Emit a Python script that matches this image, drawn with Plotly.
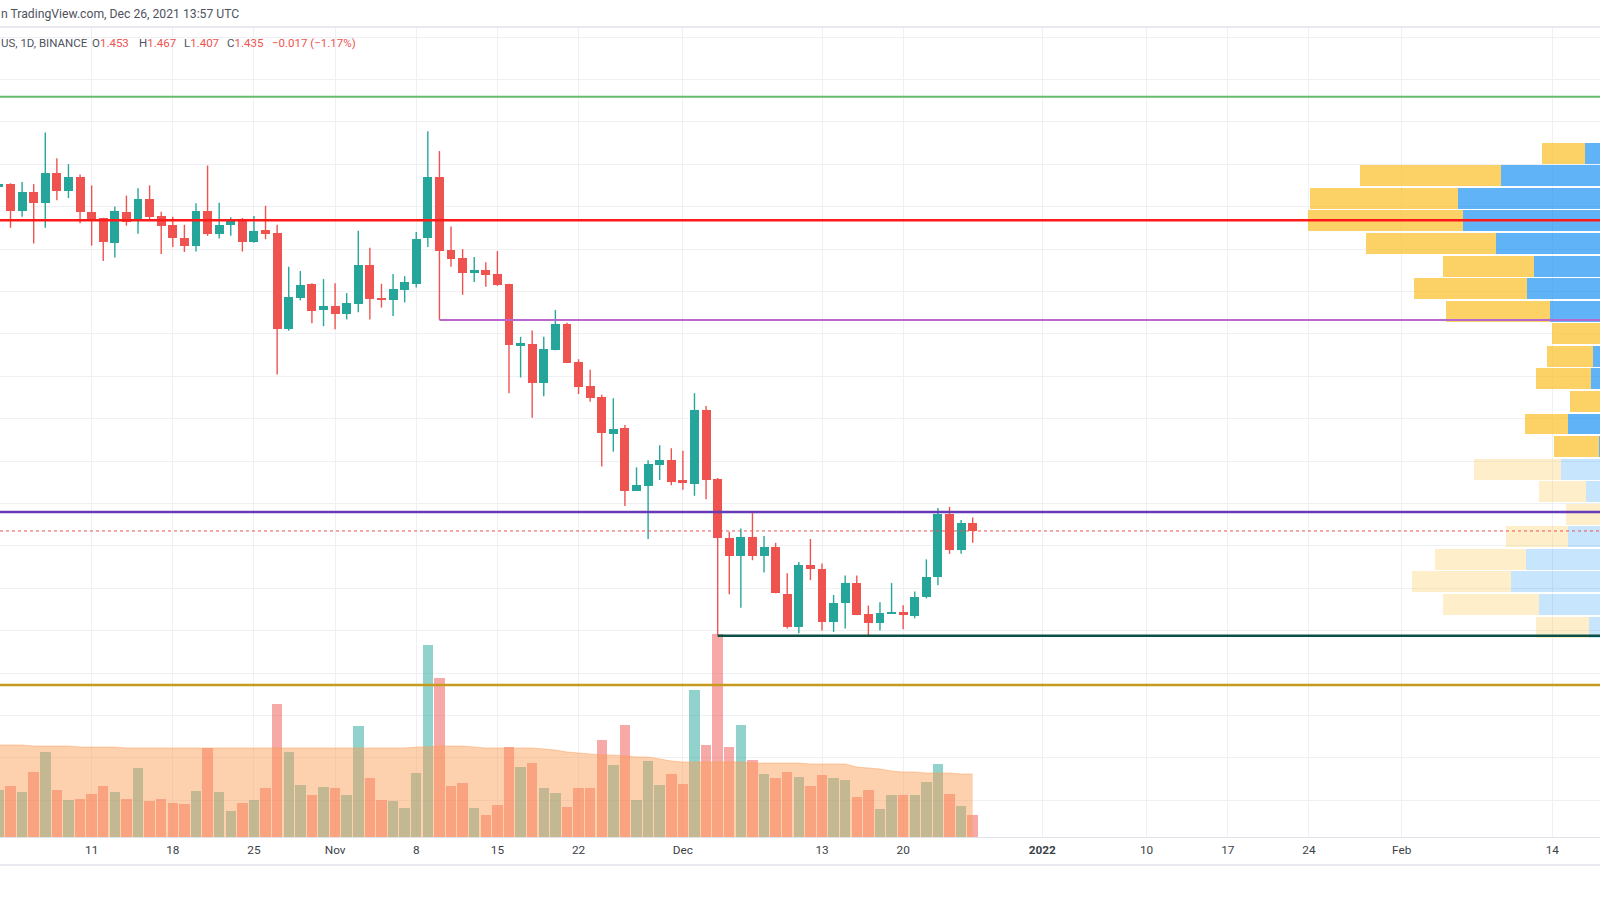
import plotly.graph_objects as go
import pandas as pd
import numpy as np

# ---------------- data ----------------
DATES = pd.date_range("2021-10-03", "2021-12-26", freq="D")

OPEN = [
    # Oct 3 .. Oct 31
    2.247, 2.253, 2.190, 2.234, 2.208, 2.279, 2.237, 2.269, 2.188, 2.172, 2.115, 2.188, 2.169, 2.217, 2.179,
    2.157, 2.127, 2.107, 2.190, 2.135, 2.156, 2.166, 2.117, 2.145, 2.138, 1.911, 1.984, 2.018, 1.956,
    # Nov 1 .. Nov 30
    1.965, 1.947, 1.970, 2.062, 1.984, 1.980, 2.003, 2.018, 2.125, 2.269, 2.098, 2.079, 2.044, 2.051, 2.041,
    2.018, 1.872, 1.877, 1.785, 1.861, 1.922, 1.834, 1.777, 1.752, 1.664, 1.677, 1.530, 1.542, 1.591, 1.602,
    # Dec 1 .. Dec 26
    1.555, 1.545, 1.720, 1.557, 1.418, 1.376, 1.420, 1.376, 1.397, 1.287, 1.209, 1.354, 1.345, 1.221, 1.264,
    1.312, 1.239, 1.217, 1.241, 1.245, 1.235, 1.279, 1.326, 1.475, 1.390, 1.453,
]
HIGH = [
    2.262, 2.255, 2.258, 2.253, 2.375, 2.314, 2.300, 2.276, 2.250, 2.174, 2.200, 2.226, 2.243, 2.250, 2.188,
    2.176, 2.157, 2.208, 2.297, 2.209, 2.175, 2.173, 2.178, 2.202, 2.157, 2.058, 2.048, 2.019, 2.029,
    2.019, 1.996, 2.143, 2.103, 2.018, 2.041, 2.036, 2.140, 2.378, 2.331, 2.153, 2.100, 2.081, 2.069, 2.095,
    2.018, 1.893, 1.908, 1.893, 1.956, 1.926, 1.840, 1.815, 1.756, 1.748, 1.685, 1.585, 1.602, 1.637, 1.630,
    1.624, 1.760, 1.730, 1.560, 1.433, 1.441, 1.477, 1.423, 1.407, 1.335, 1.362, 1.416, 1.358, 1.284, 1.330,
    1.330, 1.259, 1.267, 1.312, 1.260, 1.292, 1.368, 1.489, 1.492, 1.461, 1.467,
]
LOW = [
    2.238, 2.150, 2.176, 2.113, 2.150, 2.215, 2.220, 2.161, 2.108, 2.072, 2.080, 2.155, 2.136, 2.168, 2.088,
    2.105, 2.093, 2.094, 2.131, 2.125, 2.131, 2.094, 2.115, 2.123, 1.804, 1.907, 1.979, 1.925, 1.918,
    1.911, 1.934, 1.951, 1.934, 1.962, 1.942, 1.974, 2.009, 2.105, 1.933, 2.058, 1.992, 2.022, 2.011, 2.013,
    1.760, 1.797, 1.702, 1.753, 1.861, 1.832, 1.758, 1.740, 1.587, 1.622, 1.494, 1.530, 1.416, 1.555, 1.543,
    1.532, 1.518, 1.510, 1.188, 1.286, 1.254, 1.366, 1.337, 1.288, 1.205, 1.194, 1.319, 1.200, 1.197, 1.205,
    1.237, 1.186, 1.200, 1.240, 1.203, 1.229, 1.276, 1.307, 1.381, 1.381, 1.407,
]
CLOSE = [
    2.253, 2.190, 2.234, 2.208, 2.279, 2.237, 2.269, 2.187, 2.168, 2.117, 2.190, 2.164, 2.219, 2.176, 2.155,
    2.127, 2.107, 2.190, 2.135, 2.156, 2.166, 2.117, 2.143, 2.136, 1.911, 1.986, 2.015, 1.954, 1.965,
    1.947, 1.972, 2.062, 1.982, 1.979, 2.005, 2.022, 2.124, 2.269, 2.096, 2.077, 2.044, 2.051, 2.039, 2.015,
    1.873, 1.878, 1.785, 1.863, 1.922, 1.832, 1.775, 1.749, 1.665, 1.675, 1.530, 1.543, 1.594, 1.602, 1.551,
    1.547, 1.720, 1.555, 1.419, 1.376, 1.420, 1.376, 1.397, 1.288, 1.208, 1.354, 1.345, 1.221, 1.266, 1.312,
    1.237, 1.217, 1.242, 1.242, 1.236, 1.280, 1.327, 1.475, 1.390, 1.453, 1.435,
]
VOLUME = [
    4.7, 5.1, 4.5, 6.5, 8.5, 4.7, 3.7, 3.8, 4.3, 5.1, 4.5, 3.8, 6.9, 3.6, 3.8,
    3.4, 3.3, 4.6, 8.9, 4.5, 2.6, 3.4, 3.7, 4.9, 13.3, 8.5, 5.2, 4.2, 5.0,
    4.9, 4.2, 11.1, 5.9, 3.7, 3.6, 2.9, 6.4, 19.2, 15.9, 5.1, 5.4, 2.9, 2.2, 3.2,
    9.0, 7.0, 7.4, 4.9, 4.4, 3.0, 4.9, 4.9, 9.7, 7.2, 11.2, 3.7, 7.6, 5.2, 6.3,
    5.3, 14.7, 9.2, 20.3, 9.0, 11.2, 7.7, 6.3, 5.9, 6.5, 6.0, 5.1, 6.2, 5.9, 5.7,
    4.0, 4.7, 2.8, 4.2, 4.2, 4.2, 5.5, 7.3, 4.3, 3.1, 2.2,
]
VOLUME_MA = [
    9.2, 9.2, 9.2, 9.1, 9.1, 9.1, 9.1, 9.0, 9.0, 9.0, 9.0, 8.9, 8.9, 8.9, 8.9,
    8.9, 8.9, 8.9, 8.9, 8.9, 8.9, 8.9, 8.9, 8.9, 8.9, 8.9, 8.9, 8.9, 8.9,
    8.9, 8.9, 8.9, 8.9, 8.9, 8.9, 8.9, 9.0, 9.0, 9.1, 9.1, 9.1, 9.0, 8.9, 8.9,
    8.9, 8.9, 8.9, 8.8, 8.7, 8.5, 8.4, 8.3, 8.2, 8.2, 8.1, 8.0, 8.0, 7.8, 7.6,
    7.5, 7.5, 7.5, 7.5, 7.5, 7.5, 7.4, 7.4, 7.4, 7.4, 7.4, 7.3, 7.3, 7.3, 7.3,
    7.0, 6.9, 6.8, 6.6, 6.5, 6.5, 6.4, 6.4, 6.4, 6.3, 6.3,
]

# visible-range volume profile (rows from top to bottom)
PROFILE_TOP = 2.3524
PROFILE_ROW = 0.05321
PROFILE_UP = [15, 99, 142, 137, 104, 66, 73, 50, 0, 7, 9, 0, 32, 1,
              39, 14, 0, 32, 74, 89, 61, 11]
PROFILE_DOWN = [43, 141, 148, 155, 130, 91, 113, 104, 48, 46, 55, 30, 43, 45,
                87, 47, 34, 62, 91, 99, 96, 53]
VALUE_AREA_ROWS = 14

# horizontal levels: price and start date (None = whole chart)
LEVEL_PRICE = [2.459, 2.168, 1.9325, 1.480, 1.435, 1.188, 1.0717]
LEVEL_START = [None, None, "2021-11-10", None, None, "2021-12-04", None]

TICK_DATES = ["2021-10-11", "2021-10-18", "2021-10-25", "2021-11-01", "2021-11-08", "2021-11-15",
              "2021-11-22", "2021-12-01", "2021-12-13", "2021-12-20", "2022-01-01", "2022-01-10",
              "2022-01-17", "2022-01-24", "2022-02-01", "2022-02-14"]
TICK_TEXT = ["11", "18", "25", "Nov", "8", "15", "22", "Dec", "13", "20", "<b>2022</b>",
             "10", "17", "24", "Feb", "14"]

# ---------------- styles ----------------
UP_C = "#26a69a"
DN_C = "#ef5350"
GRID_C = "#eef0f4"
FONT = "Roboto"
X_RANGE = ["2021-10-03 02:15:47", "2022-02-18 02:38:00"]
Y_RANGE = [0.7132, 2.6236]
DAY_MS = 86400000
LEVEL_COLOR = ["#66bb6a", "#ff1a1a", "#b868cc", "#673ab7", "#ef5350", "#0c4f45", "#c79a1e"]
LEVEL_WIDTH = [2, 2.5, 2, 2.5, 1, 2.5, 2.5]
LEVEL_DASH = ["solid", "solid", "solid", "solid", "dot", "solid", "solid"]

o = np.array(OPEN); h = np.array(HIGH); l = np.array(LOW); c = np.array(CLOSE)
up = c >= o
body_base = np.minimum(o, c)
body_len = np.maximum(np.abs(c - o), 0.0028)

fig = go.Figure()

# volume (base axes)
vol = np.array(VOLUME)
for mask, col in [(up, "rgba(38,166,154,0.5)"), (~up, "rgba(239,83,80,0.5)")]:
    fig.add_trace(go.Bar(x=DATES[mask], y=vol[mask], width=0.9 * DAY_MS,
                         marker=dict(color=col, line=dict(width=0)),
                         xaxis="x", yaxis="y", hoverinfo="skip"))
fig.add_trace(go.Scatter(x=DATES, y=VOLUME_MA, mode="lines", fill="tozeroy",
                         line=dict(color="rgba(251,156,85,0.45)", width=1),
                         fillcolor="rgba(251,156,85,0.48)", xaxis="x", yaxis="y",
                         hoverinfo="skip"))

# candles (price axes)
for mask, col in [(up, UP_C), (~up, DN_C)]:
    fig.add_trace(go.Bar(x=DATES[mask], y=body_len[mask], base=body_base[mask],
                         width=0.77 * DAY_MS, marker=dict(color=col, line=dict(width=0)),
                         xaxis="x", yaxis="y2", hoverinfo="skip"))
    wx, wy = [], []
    for d, lo, hi in zip(DATES[mask], l[mask], h[mask]):
        wx += [d, d, None]
        wy += [lo, hi, None]
    fig.add_trace(go.Scatter(x=wx, y=wy, mode="lines", line=dict(color=col, width=1.4),
                             xaxis="x", yaxis="y2", hoverinfo="skip"))

# volume profile
rows = np.arange(len(PROFILE_UP))
centers = PROFILE_TOP - (rows + 0.5) * PROFILE_ROW
va = rows < VALUE_AREA_ROWS
pu = np.array(PROFILE_UP, float); pdn = np.array(PROFILE_DOWN, float)
for mask, alpha in [(va, 0.72), (~va, 0.25)]:
    fig.add_trace(go.Bar(y=centers[mask], x=pu[mask], base=0, orientation="h",
                         width=PROFILE_ROW * 0.93,
                         marker=dict(color=f"rgba(33,150,243,{alpha})", line=dict(width=0)),
                         xaxis="x2", yaxis="y2", hoverinfo="skip"))
    fig.add_trace(go.Bar(y=centers[mask], x=pdn[mask], base=pu[mask], orientation="h",
                         width=PROFILE_ROW * 0.93,
                         marker=dict(color=f"rgba(251,192,45,{alpha})", line=dict(width=0)),
                         xaxis="x2", yaxis="y2", hoverinfo="skip"))

shapes = []
for p, s, col, w, dash in zip(LEVEL_PRICE, LEVEL_START, LEVEL_COLOR, LEVEL_WIDTH, LEVEL_DASH):
    shapes.append(dict(type="line", xref="x", yref="y2",
                       x0=s if s else X_RANGE[0], x1=X_RANGE[1], y0=p, y1=p,
                       line=dict(color=col, width=w, dash=dash), layer="above"))
# pane separators
shapes.append(dict(type="line", xref="paper", yref="paper", x0=0, x1=1, y0=1, y1=1,
                   line=dict(color="#e0e3eb", width=1.5), layer="above"))
shapes.append(dict(type="line", xref="paper", yref="paper", x0=0, x1=1, y0=-0.0346, y1=-0.0346,
                   line=dict(color="#e0e3eb", width=1.5), layer="above"))

H_PLOT = 810.0
def py(ypx):
    return (837 - ypx) / H_PLOT

RED_TXT = "#ef5350"
GREY_TXT = "#50535e"
annotations = [
    dict(text="n TradingView.com, Dec 26, 2021 13:57 UTC", x=0, y=py(14.5), font_size=12.2),
    dict(text="US, 1D, BINANCE", x=0, y=py(42.5)),
    dict(text=f"O<span style='color:{RED_TXT}'>1.453</span>", x=91 / 1600, y=py(42.5)),
    dict(text=f"H<span style='color:{RED_TXT}'>1.467</span>", x=138 / 1600, y=py(42.5)),
    dict(text=f"L<span style='color:{RED_TXT}'>1.407</span>", x=183 / 1600, y=py(42.5)),
    dict(text=f"C<span style='color:{RED_TXT}'>1.435</span>", x=226 / 1600, y=py(42.5)),
    dict(text=f"<span style='color:{RED_TXT}'>\u22120.017 (\u22121.17%)</span>", x=271 / 1600, y=py(42.5)),
]
for a in annotations:
    fs = a.pop("font_size", 11.5)
    a.update(xref="paper", yref="paper", xanchor="left", yanchor="middle", showarrow=False,
             font=dict(family=FONT, size=fs, color=GREY_TXT), borderpad=0)

fig.update_layout(
    width=1600, height=900,
    margin=dict(l=0, r=0, t=27, b=63, pad=0),
    paper_bgcolor="white", plot_bgcolor="white",
    showlegend=False, barmode="overlay", bargap=0,
    xaxis=dict(type="date", range=X_RANGE, tickmode="array", tickvals=TICK_DATES,
               ticktext=TICK_TEXT, showgrid=True, gridcolor=GRID_C, gridwidth=1,
               showline=True, linecolor="#e0e3eb", linewidth=1, ticks="",
               ticklabelstandoff=2,
               tickfont=dict(family=FONT, size=11.8, color="#3c3f47"), zeroline=False,
               fixedrange=True),
    yaxis=dict(range=[0, 81.0], showgrid=False, showticklabels=False, zeroline=False,
               fixedrange=True),
    yaxis2=dict(range=Y_RANGE, overlaying="y", side="right", tick0=0, dtick=0.1,
                showgrid=True, gridcolor=GRID_C, gridwidth=1, showticklabels=False,
                zeroline=False, ticks="", fixedrange=True),
    xaxis2=dict(range=[1600, 0], overlaying="x", visible=False, fixedrange=True),
    shapes=shapes, annotations=annotations,
)

fig.write_html("out.html")
